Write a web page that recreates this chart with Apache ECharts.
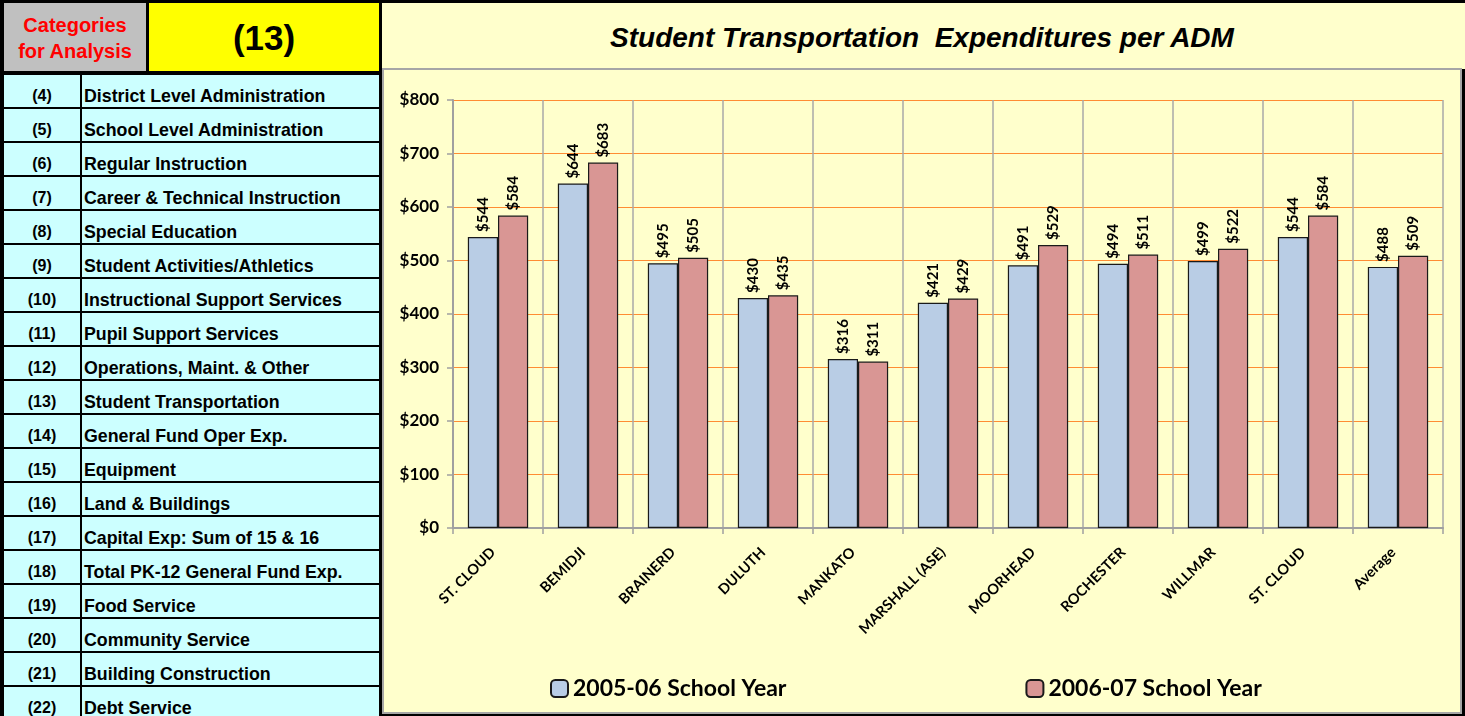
<!DOCTYPE html>
<html>
<head>
<meta charset="utf-8">
<script src="https://cdn.jsdelivr.net/npm/echarts@6/dist/echarts.min.js"></script>
<style>
  body { margin: 0; width: 1465px; height: 716px; background: #000; overflow: hidden; position: relative; font-family: "Liberation Sans", Arial, sans-serif; }
  .cell { position: absolute; box-sizing: border-box; }
  .hdr-grey { left: 4px; top: 3px; width: 142px; height: 68px; background: #C0C0C0; color: #FF0000; font-weight: bold; font-size: 20px; line-height: 26px; text-align: center; padding-top: 9px; }
  .hdr-yellow { left: 149px; top: 3px; width: 230px; height: 68px; background: #FFFF00; font-weight: bold; font-size: 35px; text-align: center; line-height: 70px; }
  .num { left: 4px; width: 76px; height: 32px; background: #CCFFFF; font-weight: bold; font-size: 16px; text-align: center; padding-top: 12px; line-height: 18px; }
  .lbl { left: 82px; width: 297px; height: 32px; background: #CCFFFF; font-weight: bold; font-size: 17.8px; padding-top: 12px; padding-left: 2px; line-height: 18px; white-space: nowrap; }
  #title { left: 382px; top: 3px; width: 1083px; height: 66px; background: #FFFFCC; font-weight: bold; font-style: italic; font-size: 28px; text-align: center; line-height: 70px; padding-right: 3px; }
  #box { left: 382px; top: 68px; width: 1080px; height: 646px; background: #FFFFCC; border: 2px solid #A6A6A6; }
  #chart { position: absolute; left: 0; top: 0; width: 1076px; height: 642px; }
</style>
</head>
<body>
<div class="cell hdr-grey">Categories<br>for Analysis</div>
<div class="cell hdr-yellow">(13)</div>
<div id="rows"></div>
<div class="cell" id="title">Student Transportation&nbsp; Expenditures per ADM</div>
<div class="cell" id="box"><div id="chart"></div></div>
<script>
const rowNums = ["(4)", "(5)", "(6)", "(7)", "(8)", "(9)", "(10)", "(11)", "(12)", "(13)",
  "(14)", "(15)", "(16)", "(17)", "(18)", "(19)", "(20)", "(21)", "(22)"];
const rowNames = ["District Level Administration", "School Level Administration", "Regular Instruction",
  "Career & Technical Instruction", "Special Education", "Student Activities/Athletics",
  "Instructional Support Services", "Pupil Support Services", "Operations, Maint. & Other",
  "Student Transportation", "General Fund Oper Exp.", "Equipment", "Land & Buildings",
  "Capital Exp: Sum of 15 & 16", "Total PK-12 General Fund Exp.", "Food Service",
  "Community Service", "Building Construction", "Debt Service"];

const districts = ["ST. CLOUD", "BEMIDJI", "BRAINERD", "DULUTH", "MANKATO", "MARSHALL (ASE)",
  "MOORHEAD", "ROCHESTER", "WILLMAR", "ST. CLOUD", "Average"];
const year0506 = [544, 644, 495, 430, 316, 421, 491, 494, 499, 544, 488];
const year0607 = [584, 683, 505, 435, 311, 429, 529, 511, 522, 584, 509];
const yTicks = [0, 100, 200, 300, 400, 500, 600, 700, 800];

// left table
const rowsEl = document.getElementById("rows");
rowNums.forEach((n, i) => {
  const top = 75 + i * 34;
  const a = document.createElement("div");
  a.className = "cell num";
  a.style.top = top + "px";
  a.textContent = n;
  const b = document.createElement("div");
  b.className = "cell lbl";
  b.style.top = top + "px";
  b.textContent = rowNames[i];
  rowsEl.appendChild(a);
  rowsEl.appendChild(b);
});

const font = 'Lato, "Open Sans", sans-serif';
const labelOpt = {
  show: true,
  position: "top",
  rotate: 90,
  align: "left",
  verticalAlign: "middle",
  distance: 5,
  fontFamily: font,
  fontSize: 15,
  fontWeight: "bold",
  color: "#000",
  formatter: (p) => "$" + p.value,
};

let charts = echarts.init(document.getElementById("chart"));
charts.setOption({
  backgroundColor: "#FFFFCC",
  animation: false,
  grid: { left: 69, top: 30, right: 17, bottom: 184 },
  legend: {
    left: 166,
    top: 607,
    padding: 0,
    itemWidth: 17,
    itemHeight: 17,
    itemGap: 239,
    textStyle: { fontFamily: font, fontSize: 23, fontWeight: "bold", color: "#000" },
    data: ["2005-06 School Year", "2006-07 School Year"],
  },
  xAxis: {
    type: "category",
    data: districts,
    axisLine: { lineStyle: { color: "#A0A0A0", width: 2 } },
    axisTick: { show: true, length: 6, lineStyle: { color: "#A0A0A0", width: 1.5 } },
    splitLine: { show: true, lineStyle: { color: "#A8A8A8", width: 1.5 } },
    axisLabel: {
      rotate: 45,
      margin: 17,
      padding: [0, 7, 0, 0],
      fontFamily: font,
      fontSize: 14.5,
      fontWeight: "bold",
      color: "#000",
    },
  },
  yAxis: {
    type: "value",
    min: yTicks[0],
    max: yTicks[yTicks.length - 1],
    interval: 100,
    axisLine: { show: true, lineStyle: { color: "#A0A0A0", width: 2 } },
    axisTick: { show: true, length: 6, lineStyle: { color: "#A0A0A0", width: 1.5 } },
    splitLine: { lineStyle: { color: "#FF8C33", width: 1.2 } },
    axisLabel: {
      margin: 14,
      fontFamily: font,
      fontSize: 17,
      fontWeight: "bold",
      color: "#000",
      formatter: (v) => "$" + v,
    },
  },
  series: [
    {
      name: "2005-06 School Year",
      type: "bar",
      data: year0506,
      barGap: "0%",
      barCategoryGap: "33%",
      itemStyle: { color: "#B9CDE5", borderColor: "#1A1A1A", borderWidth: 1.2 },
      label: labelOpt,
    },
    {
      name: "2006-07 School Year",
      type: "bar",
      data: year0607,
      itemStyle: { color: "#D99694", borderColor: "#1A1A1A", borderWidth: 1.2 },
      label: labelOpt,
    },
  ],
});
</script>
</body>
</html>
